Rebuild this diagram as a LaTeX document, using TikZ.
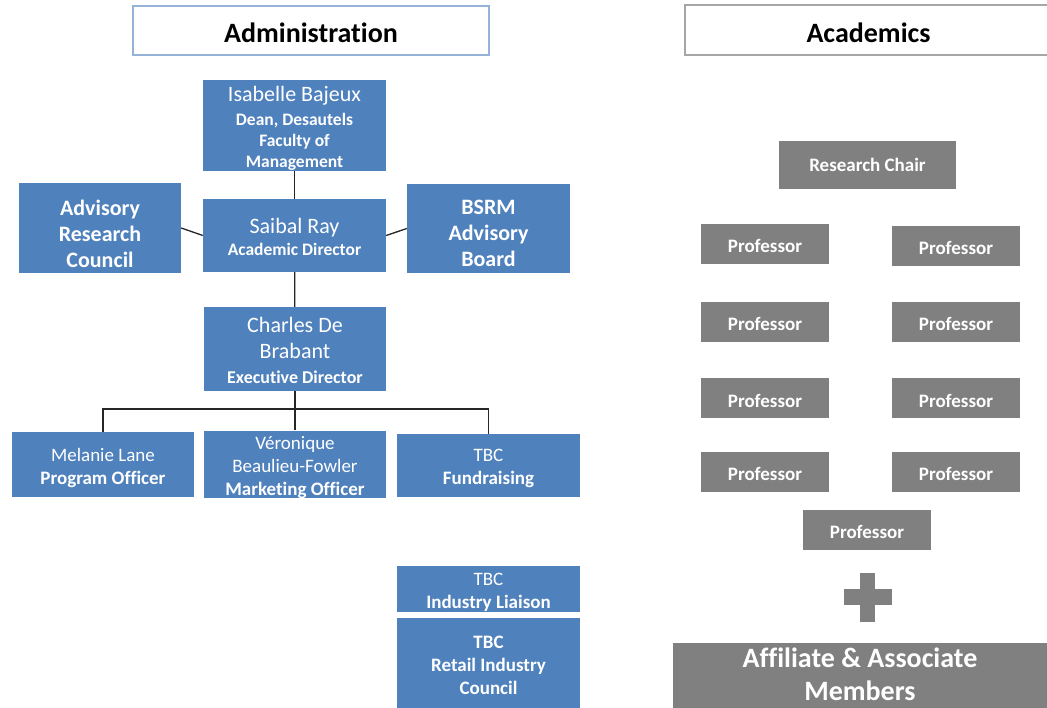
\documentclass[tikz,border=0pt]{standalone}
\usepackage{fontspec}
\setmainfont{Carlito}[Ligatures=CommonOff]
\definecolor{boxblue}{HTML}{4F81BD}
\definecolor{boxgray}{HTML}{808080}
\definecolor{headblue}{HTML}{95B3D7}
\definecolor{headgray}{HTML}{A6A6A6}
\definecolor{linkcol}{HTML}{262626}
% invisible strut that sets the height of a box's first line
\newcommand\padtop[1]{\rule{0pt}{#1pt}}
\begin{document}
\begin{tikzpicture}[x=1pt,y=-1pt,
  card/.style n args={2}{rectangle,inner sep=0pt,align=center,text=white,
    minimum width=#1,minimum height=#2},
  bluecard/.style={fill=boxblue},
  graycard/.style={fill=boxgray},
  head/.style={rectangle,inner sep=0pt,fill=white,line width=1.2pt,text=black,
    font=\fontsize{28}{34}\selectfont\bfseries},
  big/.style={font=\fontsize{22}{26}\selectfont},
  mid/.style={font=\fontsize{17.5}{21}\selectfont\bfseries},
  small/.style={font=\fontsize{19}{23}\selectfont},
  smallbold/.style={font=\fontsize{19}{23}\selectfont\bfseries},
  link/.style={draw=linkcol,line width=1.3pt}]
\useasboundingbox (0,0) rectangle (1047,708);

% column headings
\node[head,draw=headblue,minimum width=356pt,minimum height=49pt] (admin) at (311,30.5) {\padtop{24.2}Administration};
\node[head,draw=headgray,minimum width=367pt,minimum height=50pt] (acad) at (868.5,30) {\padtop{25.2}Academics};

% administration chart
\node[card={183pt}{89pt},bluecard,mid] (dean) at (294.5,125.5)
  {{\fontsize{22}{26}\selectfont\mdseries\padtop{21.8}Isabelle Bajeux}\\[3pt] Dean, Desautels\\ Faculty of\\ Management};
\node[card={162pt}{90pt},bluecard,big] (arc) at (100,228)
  {\bfseries\padtop{27}Advisory\\ \bfseries Research\\ \bfseries Council};
\node[card={183pt}{73pt},bluecard,mid] (acdir) at (294.5,235.5)
  {{\fontsize{22}{26}\selectfont\mdseries\padtop{17.8}Saibal Ray}\\[1pt] Academic Director};
\node[card={163pt}{89pt},bluecard,big] (bsrm) at (488.5,228.5)
  {\bfseries\padtop{25}BSRM\\ \bfseries Advisory\\ \bfseries Board};
\node[card={182pt}{84pt},bluecard,big] (exdir) at (295,349)
  {\padtop{17.8}Charles De\\ Brabant\\[-1pt] {\fontsize{18}{22}\selectfont\bfseries Executive Director}};
\node[card={182pt}{65pt},bluecard,small] (prog) at (103,464.5)
  {\padtop{19.7}Melanie Lane\\ \bfseries Program Officer};
\node[card={182pt}{65pt},bluecard,small] (mkt) at (295,464.5)
  {\padtop{18.7}Véronique\\ Beaulieu-Fowler\\ \bfseries Marketing Officer};
\node[card={183pt}{63pt},bluecard,small] (fund) at (488.5,465.5)
  {\padtop{19.2}TBC\\ \bfseries Fundraising};
\node[card={183pt}{44pt},bluecard,small] (liaison) at (488.5,589)
  {\padtop{19.2}TBC\\ \bfseries Industry Liaison};
\node[card={183pt}{90pt},bluecard,smallbold] (retail) at (488.5,663)
  {\padtop{16.2}TBC\\ Retail Industry\\ Council};

\coordinate (bus) at (295,409);
\draw[link] (dean) -- (acdir);
\draw[link] (arc.east) -- (acdir.west);
\draw[link] (acdir.east) -- (bsrm.west);
\draw[link] (acdir) -- (exdir);
\draw[link] (exdir) -- (mkt);
\draw[link] (prog.north) |- (bus) -| (fund.north);

% academics
\node[card={177pt}{48pt},graycard,smallbold] (chair) at (867.5,165) {Research Chair};
\node[card={128pt}{40pt},graycard,smallbold] (p1) at (765,244) {\padtop{17.7}Professor};
\node[card={128pt}{40pt},graycard,smallbold] (p2) at (956,246) {\padtop{17.7}Professor};
\node[card={128pt}{40pt},graycard,smallbold] (p3) at (765,322) {\padtop{17.7}Professor};
\node[card={128pt}{40pt},graycard,smallbold] (p4) at (956,322) {\padtop{17.7}Professor};
\node[card={128pt}{40pt},graycard,smallbold] (p5) at (765,398.5) {\padtop{17.7}Professor};
\node[card={128pt}{40pt},graycard,smallbold] (p6) at (956,398.5) {\padtop{17.7}Professor};
\node[card={128pt}{40pt},graycard,smallbold] (p7) at (765,471.5) {\padtop{17.7}Professor};
\node[card={128pt}{40pt},graycard,smallbold] (p8) at (956,471.5) {\padtop{17.7}Professor};
\node[card={128pt}{40pt},graycard,smallbold] (p9) at (867,530) {\padtop{17.7}Professor};

% plus sign
\fill[boxgray] (860,573) rectangle (875,622);
\fill[boxgray] (844,589) rectangle (892,605);

\fill[boxgray] (673,643) rectangle (1047,708);
\node[card={374pt}{62pt},text=white,font=\fontsize{28}{33}\selectfont\bfseries] (members) at (860,674)
  {Affiliate \& Associate\\ Members};
\end{tikzpicture}
\end{document}
